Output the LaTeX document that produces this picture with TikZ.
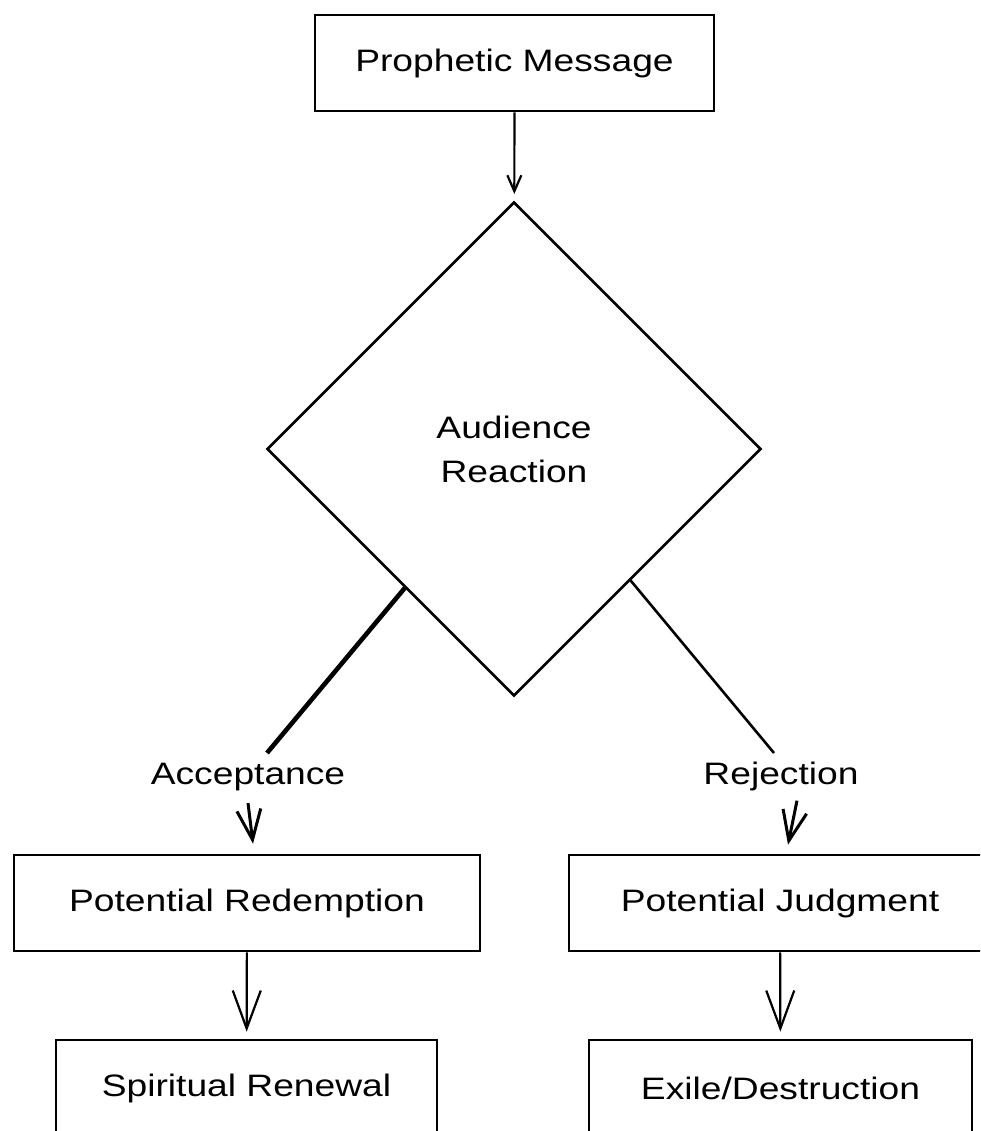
\documentclass[tikz,border=0pt]{standalone}
\usepackage{fontspec}
\setmainfont[FakeStretch=1.2]{Liberation Sans}
\usetikzlibrary{shapes.geometric,arrows.meta,calc}
\begin{document}
\begin{tikzpicture}[x=1pt,y=-1pt,
  txt/.style={font=\fontsize{31}{44}\selectfont},
  box/.style={draw, line width=2.6pt, rectangle, inner sep=0pt, txt},
  decision/.style={draw, line width=2.6pt, diamond, inner sep=0pt, aspect=1,
    minimum width=494pt, minimum height=494pt, align=center, txt},
  lbl/.style={inner sep=2pt, txt},
  arrsmall/.style={line width=2.2pt, -{Straight Barb[length=16pt,width=14pt,line width=2.2pt]}},
  arrbig/.style={line width=2.2pt, -{Straight Barb[length=38pt,width=28pt,line width=2.2pt]}},
  arrlbl/.style={line width=3pt, -{Straight Barb[length=30pt,width=24pt,line width=3pt]}},
  branchA/.style={line width=4.6pt},
  branchB/.style={line width=2.6pt}]
\useasboundingbox (0,0) rectangle (980,1131);
\clip (0,0) rectangle (980,1131);

\node[box, minimum width=399pt, minimum height=96pt] (pm) at (514.5,63) {Prophetic Message};
\node[decision] (dia) at (514,449) {Audience\\Reaction};

\node[lbl] (acc) at (248,777) {Acceptance};
\node[lbl] (rej) at (781,776) {Rejection};

\node[box, minimum width=466pt, minimum height=96pt] (pr) at (247,903) {Potential Redemption};
\node[box, minimum width=422pt, minimum height=96pt] (pj) at (780,903) {Potential Judgment};
\node[box, minimum width=381pt, minimum height=96pt] (sr) at (246.5,1088) {Spiritual Renewal};
\node[box, minimum width=383pt, minimum height=96pt] (ed) at (780.5,1088) {Exile/Destruction};

\coordinate (accend) at (267,753);
\coordinate (rejend) at (774,753);

\draw[arrsmall, shorten >=7pt] (pm) -- (dia);
\draw[branchA] ($(dia.west)!0.56!(dia.south)$) -- (accend);
\draw[branchB] ($(dia.south)!0.47!(dia.east)$) -- (rejend);
\draw[arrlbl] ([yshift=-10pt]acc.south) -- ([xshift=6pt,yshift=10pt]pr.north);
\draw[arrlbl] ([xshift=16pt,yshift=-8pt]rej.south) -- ([xshift=8pt,yshift=9pt]pj.north);
\draw[arrbig, shorten >=7pt] (pr) -- (sr);
\draw[arrbig, shorten >=7pt] (pj) -- (ed);
\end{tikzpicture}
\end{document}
